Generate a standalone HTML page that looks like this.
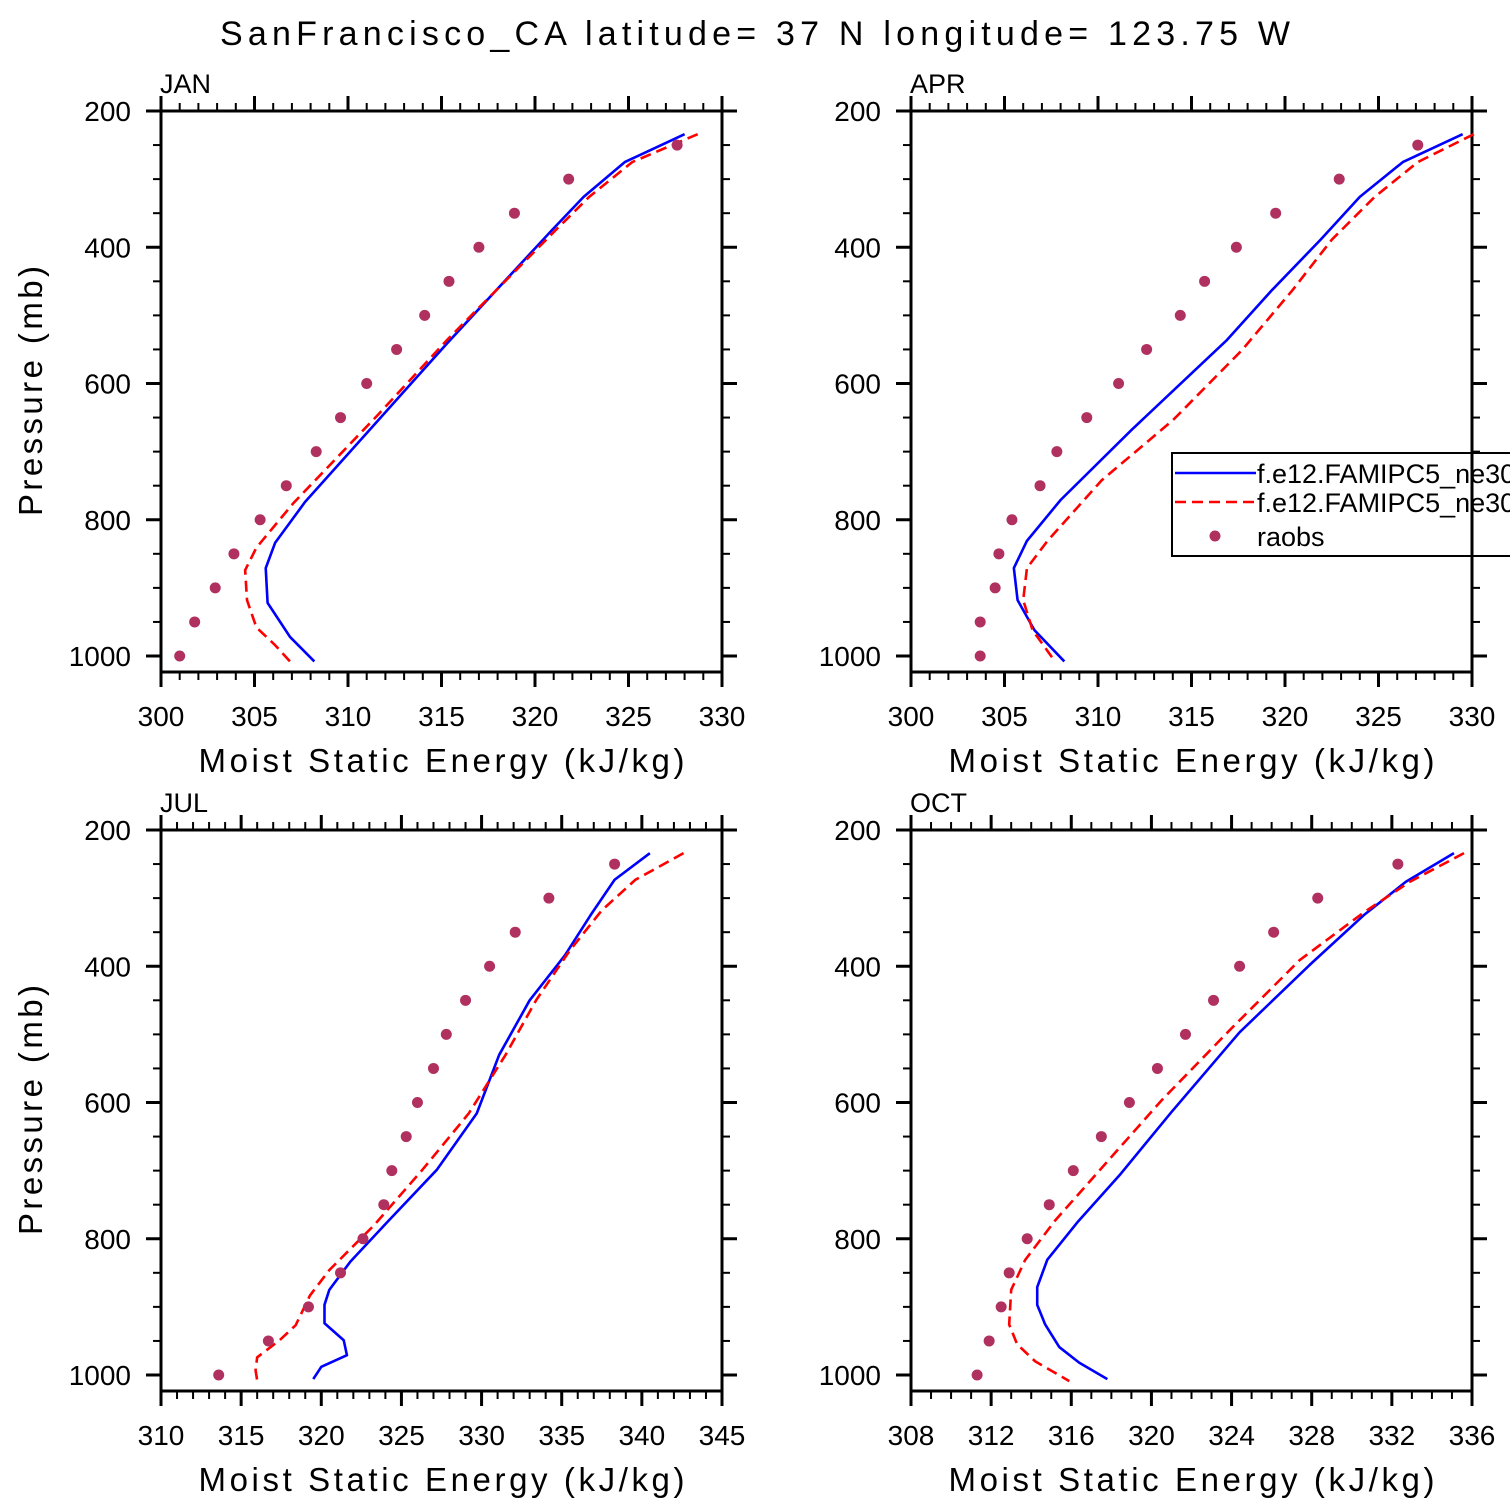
<!DOCTYPE html>
<html><head><meta charset="utf-8"><style>
html,body{margin:0;padding:0;background:#fff;}
svg{display:block;}
text{font-family:"Liberation Sans",sans-serif;fill:#000;}
</style></head><body>
<svg id="fig" width="1510" height="1510" viewBox="0 0 1510 1510" xmlns="http://www.w3.org/2000/svg">
<text x="755" y="45" font-size="34" text-anchor="middle" textLength="1070" lengthAdjust="spacing">SanFrancisco_CA  latitude= 37 N longitude= 123.75 W</text>
</svg>
<script>
// ---- data ----
const obsP = [250,300,350,400,450,500,550,600,650,700,750,800,850,900,950,1000];
const janObs = [327.6,321.8,318.9,317.0,315.4,314.1,312.6,311.0,309.6,308.3,306.7,305.3,303.9,302.9,301.8,301.0];
const janBlueP = [234,275,326,375,541,774,834,871,922,972,1008];
const janBlue = [328.0,324.8,322.6,320.9,315.3,307.7,306.1,305.6,305.7,306.9,308.2];
const janRedP = [234,275,326,375,536,646,775,841,874,918,958,984,1011];
const janRed = [328.7,325.2,322.9,321.1,315.3,311.6,307.1,305.1,304.5,304.6,305.1,306.1,307.0];

const aprObs = [327.1,322.9,319.5,317.4,315.7,314.4,312.6,311.1,309.4,307.8,306.9,305.4,304.7,304.5,303.7,303.7];
const aprBlueP = [234,275,326,389,463,536,668,771,831,871,918,962,1008];
const aprBlue = [329.5,326.3,324.0,321.9,319.3,316.9,311.8,308.0,306.2,305.5,305.7,306.6,308.2];
const aprRedP = [234,275,326,389,463,551,654,742,831,871,918,962,1008];
const aprRed = [330.1,327.1,324.8,322.5,320.4,317.7,314.0,310.2,307.3,306.2,306.0,306.5,307.7];

const julObs = [338.3,334.2,332.1,330.5,329.0,327.8,327.0,326.0,325.3,324.4,323.9,322.6,321.2,319.2,316.7,313.6];
const julBlueP = [234,273,325,384,450,530,616,699,776,834,875,897,924,949,971,988,1006];
const julBlue = [340.5,338.3,336.8,335.2,333.0,331.1,329.7,327.2,324.1,321.8,320.5,320.2,320.2,321.4,321.6,320.0,319.5];
const julRedP = [234,273,318,377,450,530,616,699,780,846,883,927,949,974,993,1008];
const julRed = [342.6,339.6,337.5,335.5,333.4,331.5,329.2,326.3,323.3,320.5,319.3,318.4,317.4,316.0,315.9,316.0];

const octObs = [332.3,328.3,326.1,324.4,323.1,321.7,320.3,318.9,317.5,316.1,314.9,313.8,312.9,312.5,311.9,311.3];
const octBlueP = [234,276,325,398,497,614,707,776,831,871,897,926,959,982,1006];
const octBlue = [335.1,332.7,330.6,327.9,324.4,321.0,318.4,316.3,314.8,314.3,314.3,314.7,315.4,316.4,317.8];
const octRedP = [234,276,321,391,494,597,700,773,831,875,926,955,980,1009];
const octRed = [335.6,332.9,330.6,327.4,323.9,320.5,317.4,315.2,313.7,313.0,312.9,313.3,314.2,315.9];

const janXTicks = [300,305,310,315,320,325,330];
const aprXTicks = [300,305,310,315,320,325,330];
const julXTicks = [310,315,320,325,330,335,340,345];
const octXTicks = [308,312,316,320,324,328,332,336];
const pTicks = [200,400,600,800,1000];

const NS = "http://www.w3.org/2000/svg";
const svg = document.getElementById('fig');
function mk(tag, attrs, parent){const e=document.createElementNS(NS,tag);for(const k in attrs)e.setAttribute(k,attrs[k]);(parent||svg).appendChild(e);return e;}

const panels = [
 {name:'jan',label:'JAN',x0:161,y0:111,xmin:300,xmax:330,minor:1,ticks:janXTicks,obs:janObs,bp:janBlueP,b:janBlue,rp:janRedP,r:janRed,yt:true},
 {name:'apr',label:'APR',x0:911,y0:111,xmin:300,xmax:330,minor:1,ticks:aprXTicks,obs:aprObs,bp:aprBlueP,b:aprBlue,rp:aprRedP,r:aprRed,yt:false,legend:true},
 {name:'jul',label:'JUL',x0:161,y0:830,xmin:310,xmax:345,minor:1,ticks:julXTicks,obs:julObs,bp:julBlueP,b:julBlue,rp:julRedP,r:julRed,yt:true},
 {name:'oct',label:'OCT',x0:911,y0:830,xmin:308,xmax:336,minor:1,ticks:octXTicks,obs:octObs,bp:octBlueP,b:octBlue,rp:octRedP,r:octRed,yt:false}
];
const W=561, PPM=545/800, PMAX=200+561/(545/800);
panels.forEach(p=>{
  const H = (PMAX-200)*PPM;
  const g = mk('g',{});
  
  
  const xs = v => p.x0 + (v-p.xmin)/(p.xmax-p.xmin)*W;
  const ys = v => p.y0 + (v-200)*PPM;
  const yb = p.y0+H;
  const tg = mk('g',{stroke:'#000','stroke-width':2},g);
  
  
  const step = (p.ticks[1]-p.ticks[0]);
  for(let v=p.xmin; v<=p.xmax+1e-6; v+=p.minor){
    const major = Math.abs(((v-p.xmin)/step)-Math.round((v-p.xmin)/step))<1e-6;
    const L = major?15:8, x=xs(v);
    mk('line',{x1:x,x2:x,y1:yb,y2:yb+L,'stroke-width':major?3:2},tg);
    mk('line',{x1:x,x2:x,y1:p.y0,y2:p.y0-L,'stroke-width':major?3:2},tg);
  }
  for(let v=200; v<=1000; v+=50){
    const major = v%200===0, L=major?15:8, y=ys(v);
    mk('line',{x1:p.x0-L,x2:p.x0,y1:y,y2:y,'stroke-width':major?3:2},tg);
    mk('line',{x1:p.x0+W,x2:p.x0+W+L,y1:y,y2:y,'stroke-width':major?3:2},tg);
  }
  const fr = mk('rect',{x:p.x0,y:p.y0,width:W,height:H,fill:'none',stroke:'#000','stroke-width':3},g);
  
  
  p.ticks.forEach(v=>{
    const t = mk('text',{x:xs(v),y:yb+54,'font-size':28,'text-anchor':'middle'},g);
    
    
    t.textContent = v;
  });
  pTicks.forEach(v=>{
    const t = mk('text',{x:p.x0-30,y:ys(v)+10,'font-size':28,'text-anchor':'end'},g);
    
    
    t.textContent = v;
  });
  const lb = mk('text',{x:p.x0-1,y:p.y0-18,'font-size':27},g);
  
  
  lb.textContent = p.label;
  const xt = mk('text',{x:p.x0+W/2,y:yb+100,'font-size':33,'text-anchor':'middle',textLength:486,lengthAdjust:'spacing'},g);
  
  
  xt.textContent = 'Moist Static Energy (kJ/kg)';
  if(p.yt){
    const cy = p.y0+280;
    const yt = mk('text',{x:42,y:cy,'font-size':33,'text-anchor':'middle',transform:`rotate(-90 42 ${cy})`,textLength:250,lengthAdjust:'spacing'},g);
    
    
    yt.textContent = 'Pressure (mb)';
  }
  const bl = mk('polyline',{points:p.b.map((v,i)=>xs(v)+','+ys(p.bp[i])).join(' '),fill:'none',stroke:'#0000ff','stroke-width':2.6,'stroke-linejoin':'round'},g);
  
  
  const rl = mk('polyline',{points:p.r.map((v,i)=>xs(v)+','+ys(p.rp[i])).join(' '),fill:'none',stroke:'#ff0000','stroke-width':2.6,'stroke-dasharray':'11 6'},g);
  
  
  p.obs.forEach((v,i)=>{
    const c = mk('circle',{cx:xs(v),cy:ys(obsP[i]),r:5.5,fill:'#b03060'},g);
    
    
  });
  if(p.legend){
    const lg = mk('g',{},g);
    
    
    mk('rect',{x:1172,y:453,width:360,height:103,fill:'#fff',stroke:'#000','stroke-width':2},lg);
    mk('line',{x1:1175,x2:1256,y1:473,y2:473,stroke:'#0000ff','stroke-width':2.6},lg);
    mk('line',{x1:1175,x2:1256,y1:502,y2:502,stroke:'#ff0000','stroke-width':2.6,'stroke-dasharray':'11 6'},lg);
    mk('circle',{cx:1215,cy:536,r:5.5,fill:'#b03060'},lg);
    const t1=mk('text',{x:1257,y:483,'font-size':27},lg);
    
    
    t1.textContent='f.e12.FAMIPC5_ne30_g16';
    const t2=mk('text',{x:1257,y:512,'font-size':27},lg);
    
    
    t2.textContent='f.e12.FAMIPC5_ne30_g16';
    const t3=mk('text',{x:1257,y:546,'font-size':27},lg);
    
    
    t3.textContent='raobs';
    mk('line',{x1:p.x0+W,x2:p.x0+W,y1:440,y2:570,stroke:'#000','stroke-width':3},g);
  }
});
</script>
</body></html>
